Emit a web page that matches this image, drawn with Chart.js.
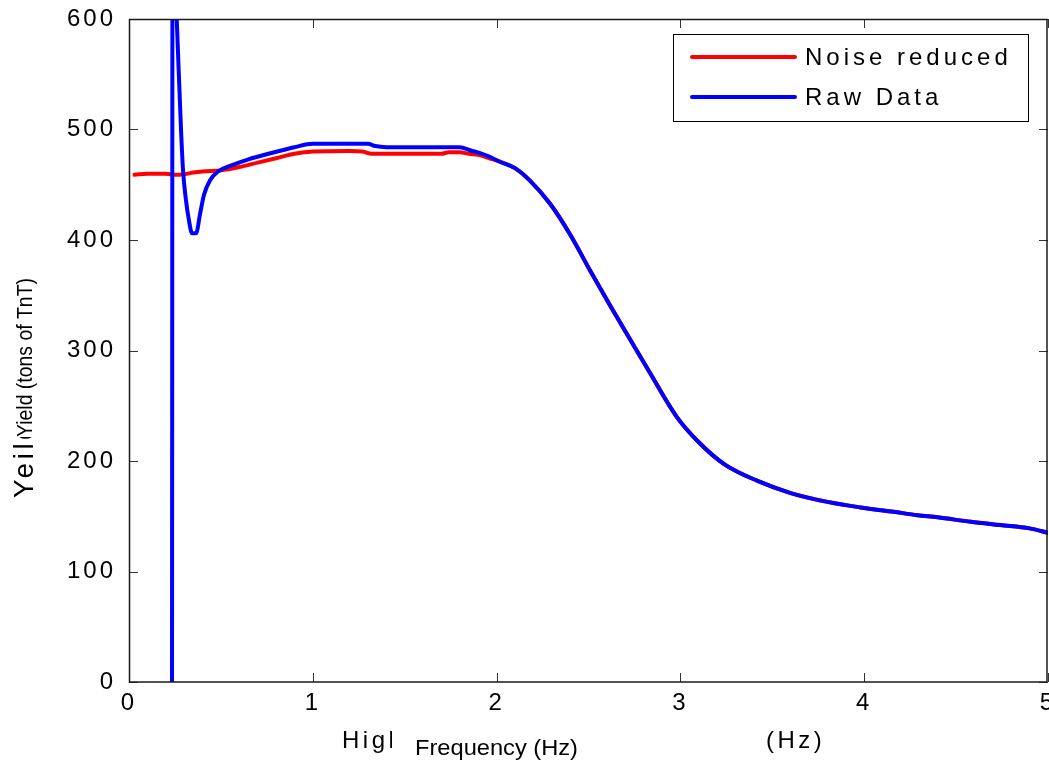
<!DOCTYPE html>
<html>
<head>
<meta charset="utf-8">
<script src="https://cdn.jsdelivr.net/npm/chart.js@4.4.0/dist/chart.umd.min.js"></script>
<style>
  html, body { margin: 0; padding: 0; background: #fff; }
  canvas { display: block; }
</style>
</head>
<body>
<canvas id="myChart" width="1049" height="764"></canvas>
<script>
const ctx = document.getElementById('myChart');

// Noise reduced (red)
const noiseX = [0.03, 0.1, 0.2, 0.25, 0.3, 0.35, 0.4, 0.5, 0.6, 0.7, 0.8, 0.9, 1.0, 1.2, 1.27, 1.32, 1.7, 1.74, 1.8, 1.85, 1.9, 1.96, 2.05,
    2.1, 2.18, 2.29, 2.40, 2.51, 2.62, 2.73, 2.83, 2.98, 3.1, 3.24, 3.42, 3.6, 3.8, 3.98, 4.16, 4.29, 4.4, 4.58, 4.74, 4.9, 5.0];
const noiseY = [459, 460, 460, 459, 459.5, 461, 462, 463, 466, 470, 474, 478, 480, 480.5, 480, 478, 478, 479.5, 479.5, 478, 477, 474, 469,
    465, 454, 433, 405, 372, 340, 309, 281, 240, 217, 197, 182, 171, 163, 158, 154, 151, 149, 145, 142, 139, 135];

// Raw data (blue)
const rawX = [0.234, 0.237, 0.262, 0.283, 0.294, 0.31, 0.326, 0.343, 0.365, 0.386, 0.408, 0.441, 0.484, 0.55, 0.65, 0.77, 0.9, 1.0, 1.3, 1.34, 1.4, 1.8, 1.86, 1.91, 1.96, 2.02,
    2.1, 2.18, 2.29, 2.40, 2.51, 2.62, 2.73, 2.83, 2.98, 3.1, 3.24, 3.42, 3.6, 3.8, 3.98, 4.16, 4.29, 4.4, 4.58, 4.74, 4.9, 5.0];
const rawY = [0, 690, 590, 500, 463, 436, 418, 406, 406, 423, 441, 454, 462, 467, 473, 478.5, 484, 487, 487, 485, 484, 484, 481, 478.7, 475.5, 470.6,
    465, 454, 433, 405, 372, 340, 309, 281, 240, 217, 197, 182, 171, 163, 158, 154, 151, 149, 145, 142, 139, 135];

const xTicks = [0, 1, 2, 3, 4, 5];
const yTicks = [0, 100, 200, 300, 400, 500, 600];

const FONT = "'Liberation Sans', Arial, sans-serif";

function pts(xs, ys) {
    return xs.map((x, i) => ({ x: x, y: ys[i] }));
}

// matlab style frame, inward ticks, legend box and axis labels
const framePlugin = {
    id: 'frame',
    beforeLayout(chart) {
        chart.ctx.letterSpacing = '3px';
    },
    afterDraw(chart) {
        const c = chart.ctx;
        const a = chart.chartArea;
        const xs = chart.scales.x, ys = chart.scales.y;
        c.save();
        c.letterSpacing = '0px';

        // ticks
        c.strokeStyle = '#333';
        c.lineWidth = 1;
        c.beginPath();
        xTicks.forEach(v => {
            const px = Math.round(xs.getPixelForValue(v)) + 0.5;
            c.moveTo(px, a.bottom); c.lineTo(px, a.bottom - 9);
            c.moveTo(px, a.top); c.lineTo(px, a.top + 9);
        });
        yTicks.forEach(v => {
            const py = Math.round(ys.getPixelForValue(v)) + 0.5;
            c.moveTo(a.left, py); c.lineTo(a.left + 9, py);
            c.moveTo(a.right, py); c.lineTo(a.right - 9, py);
        });
        c.stroke();

        // frame
        c.strokeStyle = '#1a1a1a';
        c.lineWidth = 1.5;
        c.strokeRect(a.left + 0.5, a.top + 0.5, a.right - a.left - 1.5, a.bottom - a.top - 0.5);

        // legend
        const lx = 673, ly = 34, lw = 355, lh = 87;
        c.fillStyle = '#fff';
        c.fillRect(lx, ly, lw, lh);
        c.strokeStyle = '#000';
        c.lineWidth = 1;
        c.strokeRect(lx + 0.5, ly + 0.5, lw, lh);
        c.font = '24px ' + FONT;
        c.letterSpacing = '4px';
        c.textBaseline = 'middle';
        c.textAlign = 'left';
        chart.data.datasets.forEach((ds, i) => {
            const yy = 57 + i * 40;
            c.strokeStyle = ds.borderColor;
            c.lineWidth = 4;
            c.lineCap = 'round';
            c.beginPath();
            c.moveTo(692, yy); c.lineTo(795, yy);
            c.stroke();
            c.fillStyle = '#000';
            c.fillText(ds.label, 805, yy + 1);
        });

        // x axis labels (overlapping, as in the original figure)
        c.textBaseline = 'alphabetic';
        c.fillStyle = '#000';
        c.font = '24px ' + FONT;
        c.letterSpacing = '3.5px';
        c.save();
        c.beginPath();
        c.rect(330, 700, 62, 64);
        c.clip();
        c.fillText('High', 342, 748);
        c.restore();
        c.fillText('(Hz)', 766, 748);
        c.letterSpacing = '0px';
        c.font = '22px ' + FONT;
        let w = c.measureText('Frequency (Hz)').width;
        c.save();
        c.translate(415, 755);
        c.scale(163 / w, 1);
        c.fillText('Frequency (Hz)', 0, 0);
        c.restore();

        // y axis labels
        c.save();
        c.beginPath();
        c.rect(0, 437, 60, 80);
        c.clip();
        c.translate(33, 498);
        c.rotate(-Math.PI / 2);
        c.font = '28px ' + FONT;
        c.letterSpacing = '3.5px';
        c.fillText('Yeild', 0, 0);
        c.restore();

        c.save();
        c.letterSpacing = '0px';
        c.font = '22px ' + FONT;
        w = c.measureText('Yield (tons of TnT)').width;
        c.translate(32, 437);
        c.rotate(-Math.PI / 2);
        c.scale(159 / w, 1);
        c.fillText('Yield (tons of TnT)', 0, 0);
        c.restore();

        c.restore();
    }
};

new Chart(ctx, {
    type: 'line',
    data: {
        datasets: [{
            label: 'Noise reduced',
            data: pts(noiseX, noiseY),
            borderColor: '#ff0000',
            borderWidth: 4,
            pointRadius: 0,
            cubicInterpolationMode: 'monotone',
            borderJoinStyle: 'round',
            borderCapStyle: 'round',
            order: 2
        }, {
            label: 'Raw Data',
            data: pts(rawX, rawY),
            borderColor: '#0000ff',
            borderWidth: 4,
            pointRadius: 0,
            cubicInterpolationMode: 'monotone',
            borderJoinStyle: 'round',
            borderCapStyle: 'round',
            order: 1
        }]
    },
    options: {
        responsive: false,
        animation: false,
        layout: { padding: { left: 0, top: 19, right: 1, bottom: 0 } },
        plugins: {
            legend: { display: false },
            tooltip: { enabled: false }
        },
        scales: {
            x: {
                type: 'linear',
                min: 0,
                max: 5,
                grid: { display: false, drawTicks: false },
                border: { display: false },
                afterBuildTicks: s => { s.ticks = xTicks.map(v => ({ value: v })); },
                afterFit: s => { s.height = 82; s.paddingLeft = 0; s.paddingRight = 0; },
                ticks: {
                    padding: 7,
                    color: '#000',
                    maxRotation: 0,
                    font: { family: FONT, size: 24 }
                }
            },
            y: {
                min: 0,
                max: 600,
                grid: { display: false, drawTicks: false },
                border: { display: false },
                afterBuildTicks: s => { s.ticks = yTicks.map(v => ({ value: v })); },
                afterFit: s => { s.width = 129; s.paddingTop = 0; s.paddingBottom = 0; },
                ticks: {
                    padding: 13,
                    color: '#000',
                    font: { family: FONT, size: 24 }
                }
            }
        }
    },
    plugins: [framePlugin]
});
</script>
</body>
</html>
